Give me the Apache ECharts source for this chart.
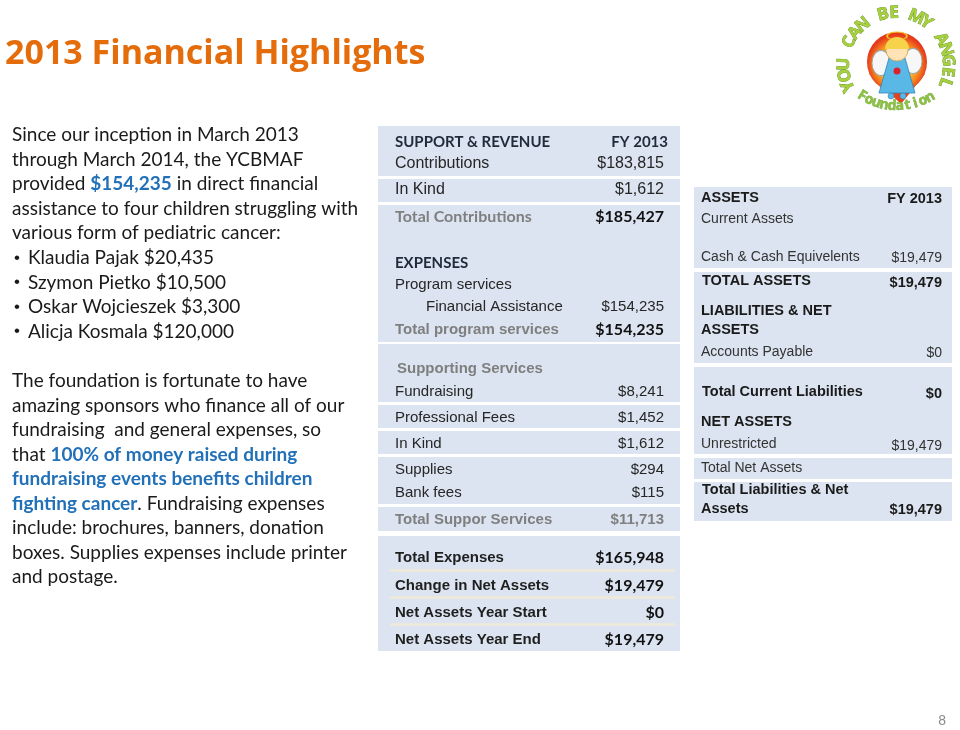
<!DOCTYPE html>
<html><head><meta charset="utf-8">
<script src="https://cdn.jsdelivr.net/npm/echarts@6/dist/echarts.min.js"></script>
<style>html,body{margin:0;padding:0;background:#fff}#c{width:960px;height:730px}</style>
</head><body><div id="c"></div>
<script>
// ---- data ----
const titleText = '2013 Financial Highlights';
const childNames = ['Klaudia Pajak', 'Szymon Pietko', 'Oskar Wojcieszek', 'Alicja Kosmala'];
const childAmounts = [20435, 10500, 3300, 120000];
const revenueLabels = ['Contributions', 'In Kind'];
const revenueValues = [183815, 1612];
const totalContributions = 185427;
const programLabels = ['Financial Assistance'];
const programValues = [154235];
const totalProgramServices = 154235;
const supportLabels = ['Fundraising', 'Professional Fees', 'In Kind', 'Supplies', 'Bank fees'];
const supportValues = [8241, 1452, 1612, 294, 115];
const totalSupportServices = 11713;
const summaryLabels = ['Total Expenses', 'Change in Net Assets', 'Net Assets Year Start', 'Net Assets Year End'];
const summaryValues = [165948, 19479, 0, 19479];
const cashValue = 19479;
const totalAssets = 19479;
const accountsPayable = 0;
const totalCurrentLiabilities = 0;
const unrestrictedValue = 19479;
const totalLiabilitiesNet = 19479;
const pageNumber = '8';

// ---- helpers ----
const fmt = v => '$' + v.toLocaleString('en-US');
const ARIAL = '"Liberation Sans", Arial, sans-serif';
const CAL = 'Lato, "Open Sans", sans-serif';
const g = [];
function txt(x, y, text, o) {
  o = o || {};
  g.push({
    type: 'text', x: x, y: y, z: 10, rotation: o.rotation || 0,
    style: {
      text: text, fill: o.fill || '#262626', fontSize: o.size || 15,
      fontFamily: o.family || ARIAL, fontWeight: o.weight || 'normal',
      textAlign: o.align || 'left', textVerticalAlign: 'middle',
      stroke: o.stroke, lineWidth: o.lineWidth || 0, rich: o.rich
    }
  });
}
function rect(x, y, w, h, fill, z) {
  g.push({ type: 'rect', z: z || 1, shape: { x: x, y: y, width: w, height: h }, style: { fill: fill } });
}
const BLUE_BG = '#dbe4f0';
const GRAY = '#7f7f7f';

// ---- title ----
txt(5, 54, titleText, { family: '"Open Sans", Lato, sans-serif', weight: 'bold', size: 34, fill: '#e46c0a' });

// ---- left paragraph ----
const BODY = { family: CAL, size: 19, fill: '#1a1a1a',
  rich: { b: { fontFamily: CAL, fontSize: 19, fontWeight: 'bold', fill: '#2271b8', color: '#2271b8' } } };
const para1 = [
  'Since our inception in March 2013',
  'through March 2014, the YCBMAF',
  'provided {b|' + fmt(programValues[0]) + '} in direct financial',
  'assistance to four children struggling with',
  'various form of pediatric cancer:'
];
const p1y = [135, 160, 184, 209, 233];
para1.forEach((t, i) => txt(12, p1y[i], t, BODY));
childNames.forEach((n, i) => {
  const y = 258 + i * 24.6;
  txt(14, y, '•', { family: ARIAL, size: 17, fill: '#1a1a1a' });
  txt(28, y, n + ' ' + fmt(childAmounts[i]), BODY);
});
const para2 = [
  'The foundation is fortunate to have',
  'amazing sponsors who finance all of our',
  'fundraising  and general expenses, so',
  'that {b|100% of money raised during}',
  '{b|fundraising events benefits children}',
  '{b|fighting cancer}. Fundraising expenses',
  'include: brochures, banners, donation',
  'boxes. Supplies expenses include printer',
  'and postage.'
];
para2.forEach((t, i) => txt(12, 381 + i * 24.5, t, BODY));

// ---- left table ----
rect(378, 126, 302, 525, BLUE_BG);
[[176, 3], [202, 3], [342, 2], [402, 3], [428, 3], [454, 3], [504, 3], [531, 5]].forEach(b => rect(378, b[0], 302, b[1], '#ffffff', 2));
[[569, 3], [596, 3], [623, 3]].forEach(b => rect(390, b[0], 285, b[1], '#ece9dc', 2));
const LV = 664;
txt(395, 142, 'SUPPORT & REVENUE', { family: CAL, weight: 'bold', size: 15, fill: '#1f2a3a' });
txt(668, 142, 'FY 2013', { family: CAL, weight: 'bold', size: 15, fill: '#1f2a3a', align: 'right' });
const revY = [164, 190];
revenueLabels.forEach((l, i) => {
  txt(395, revY[i], l, { size: 16 });
  txt(LV, revY[i], fmt(revenueValues[i]), { size: 16, align: 'right' });
});
txt(395, 217, 'Total Contributions', { family: CAL, weight: 'bold', size: 16, fill: GRAY });
txt(LV, 217, fmt(totalContributions), { family: CAL, weight: 'bold', size: 16, fill: '#111', align: 'right' });
txt(395, 263, 'EXPENSES', { family: CAL, weight: 'bold', size: 15, fill: '#1f2a3a' });
txt(395, 285, 'Program services', { size: 15 });
programLabels.forEach((l, i) => {
  txt(426, 307 + i * 23, l, { size: 15 });
  txt(LV, 307 + i * 23, fmt(programValues[i]), { size: 15, align: 'right' });
});
txt(395, 330, 'Total program services', { weight: 'bold', size: 15, fill: GRAY });
txt(LV, 330, fmt(totalProgramServices), { family: CAL, weight: 'bold', size: 16, fill: '#111', align: 'right' });
txt(397, 369, 'Supporting Services', { weight: 'bold', size: 15, fill: GRAY });
const supY = [392, 418, 444, 470, 493];
supportLabels.forEach((l, i) => {
  txt(395, supY[i], l, { size: 15 });
  txt(LV, supY[i], fmt(supportValues[i]), { size: 15, align: 'right' });
});
txt(395, 520, 'Total Suppor Services', { weight: 'bold', size: 15, fill: GRAY });
txt(LV, 520, fmt(totalSupportServices), { weight: 'bold', size: 15, fill: GRAY, align: 'right' });
const sumY = [558, 586, 613, 640];
summaryLabels.forEach((l, i) => {
  txt(395, sumY[i], l, { weight: 'bold', size: 15, fill: '#1f1f1f' });
  txt(LV, sumY[i], fmt(summaryValues[i]), { family: CAL, weight: 'bold', size: 16, fill: '#111', align: 'right' });
});

// ---- right table ----
rect(694, 187, 258, 334, BLUE_BG);
[[268, 4], [363, 4], [454, 4], [479, 3]].forEach(b => rect(694, b[0], 258, b[1], '#ffffff', 2));
const RV = 942;
const RB = { weight: 'bold', size: 14.5, fill: '#1a1a1a' };
const RN = { size: 14, fill: '#333' };
txt(701, 198, 'ASSETS', RB);
txt(RV, 199, 'FY 2013', Object.assign({ align: 'right' }, RB));
txt(701, 219, 'Current Assets', RN);
txt(701, 257, 'Cash & Cash Equivelents', RN);
txt(RV, 258, fmt(cashValue), Object.assign({ align: 'right' }, RN));
txt(702, 281, 'TOTAL ASSETS', RB);
txt(RV, 283, fmt(totalAssets), Object.assign({ align: 'right' }, RB));
txt(701, 311, 'LIABILITIES & NET', RB);
txt(701, 330, 'ASSETS', RB);
txt(701, 352, 'Accounts Payable', RN);
txt(RV, 353, fmt(accountsPayable), Object.assign({ align: 'right' }, RN));
txt(702, 392, 'Total Current Liabilities', RB);
txt(RV, 394, fmt(totalCurrentLiabilities), Object.assign({ align: 'right' }, RB));
txt(701, 422, 'NET ASSETS', RB);
txt(701, 444, 'Unrestricted', RN);
txt(RV, 446, fmt(unrestrictedValue), Object.assign({ align: 'right' }, RN));
txt(701, 468, 'Total Net Assets', RN);
txt(702, 490, 'Total Liabilities & Net', RB);
txt(701, 509, 'Assets', RB);
txt(RV, 510, fmt(totalLiabilitiesNet), Object.assign({ align: 'right' }, RB));

// ---- page number ----
txt(946, 721, pageNumber, { size: 14, fill: '#8c8c8c', align: 'right' });

// ---- logo ----
g.push({ type: 'polygon', z: 3, shape: { points: [[869, 74], [925, 74], [901, 104]] }, style: { fill: '#e5421d' } });
g.push({ type: 'circle', z: 4, shape: { cx: 897, cy: 62, r: 30 }, style: {
  fill: { type: 'radial', x: 0.5, y: 0.55, r: 0.5, colorStops: [
    { offset: 0, color: '#fff7b0' }, { offset: 0.45, color: '#ffd03f' },
    { offset: 0.75, color: '#f7891f' }, { offset: 1, color: '#e53b1c' }] } } });
// wings
g.push({ type: 'circle', z: 5, x: 881, y: 63, scaleY: 1.4, shape: { cx: 0, cy: 0, r: 9 }, style: { fill: '#f7f7f7', stroke: '#9aa', lineWidth: 0.8 } });
g.push({ type: 'circle', z: 5, x: 913, y: 61, scaleY: 1.4, shape: { cx: 0, cy: 0, r: 9 }, style: { fill: '#f7f7f7', stroke: '#9aa', lineWidth: 0.8 } });
// dress
g.push({ type: 'polygon', z: 6, shape: { points: [[889, 58], [905, 58], [915, 93], [879, 93]] }, style: { fill: '#5ab8e6', stroke: '#2f86b8', lineWidth: 0.8 } });
// halo
g.push({ type: 'circle', z: 7, x: 897, y: 36, scaleY: 0.4, shape: { cx: 0, cy: 0, r: 10 }, style: { fill: 'none', stroke: '#f3c623', lineWidth: 2 } });
// head + hair
g.push({ type: 'circle', z: 7, shape: { cx: 897, cy: 50, r: 11 }, style: { fill: '#fde3b5', stroke: '#d4a24a', lineWidth: 0.8 } });
g.push({ type: 'sector', z: 8, shape: { cx: 897, cy: 49, r: 12, r0: 0, startAngle: Math.PI, endAngle: 2 * Math.PI }, style: { fill: '#f6d34a' } });
g.push({ type: 'circle', z: 8, shape: { cx: 897, cy: 71, r: 3.5 }, style: { fill: '#d9232d' } });
g.push({ type: 'circle', z: 8, shape: { cx: 891, cy: 96, r: 3 }, style: { fill: '#5ab8e6', stroke: '#2f86b8', lineWidth: 0.6 } });
g.push({ type: 'circle', z: 8, shape: { cx: 903, cy: 96, r: 3 }, style: { fill: '#5ab8e6', stroke: '#2f86b8', lineWidth: 0.6 } });
// curved letters
const logoTop = 'YOU CAN BE MY ANGEL';
const LC = [896, 65], LR = 52;
for (let i = 0; i < logoTop.length; i++) {
  const ch = logoTop[i]; if (ch === ' ') continue;
  const a = (-114 + 224 * i / (logoTop.length - 1)) * Math.PI / 180;
  txt(LC[0] + LR * Math.sin(a), LC[1] - LR * Math.cos(a), ch,
    { family: '"Open Sans", sans-serif', weight: 'bold', size: 17, fill: '#a9cf3b', stroke: '#5d9631', lineWidth: 0.8, align: 'center', rotation: -a });
}
const logoBottom = 'Foundation';
const FC = [897, 40], FR = 66;
for (let i = 0; i < logoBottom.length; i++) {
  const th = (212 - 62 * i / (logoBottom.length - 1)) * Math.PI / 180;
  txt(FC[0] + FR * Math.sin(th), FC[1] - FR * Math.cos(th), logoBottom[i],
    { family: '"Open Sans", sans-serif', weight: 'bold', size: 14, fill: '#8cc13f', stroke: '#5d9631', lineWidth: 0.5, align: 'center', rotation: -(th + Math.PI) });
}

const chart = echarts.init(document.getElementById('c'), null, { renderer: 'canvas' });
chart.setOption({ animation: false, backgroundColor: '#ffffff', graphic: { elements: g } });
</script>
</body></html>
